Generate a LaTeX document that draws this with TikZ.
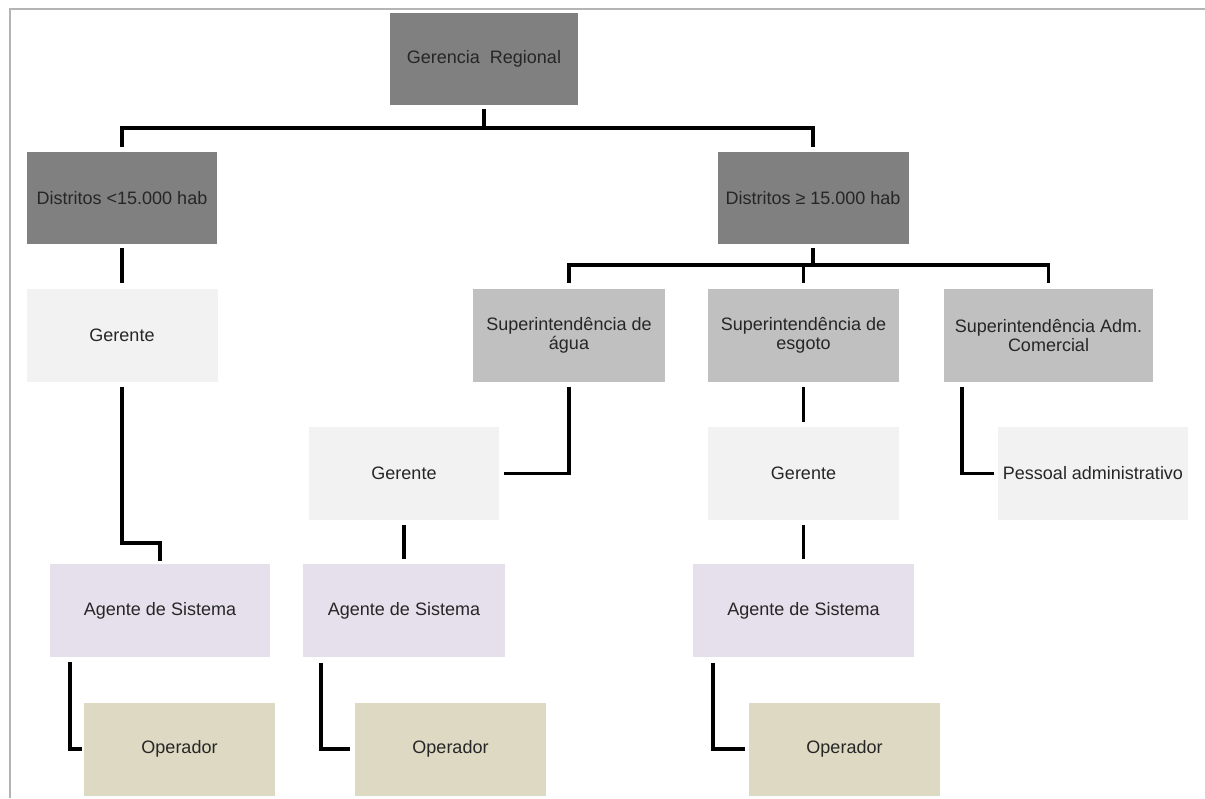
\documentclass[tikz,border=0pt]{standalone}
\usepackage{fontspec}
\setmainfont{Liberation Sans}
\definecolor{chefe}{HTML}{808080}
\definecolor{superint}{HTML}{C0C0C0}
\definecolor{gerente}{HTML}{F2F2F2}
\definecolor{agente}{HTML}{E5E0EC}
\definecolor{operador}{HTML}{DDD9C3}
\definecolor{moldura}{HTML}{B4B4B4}
\tikzset{
  cargo/.style={rectangle, inner sep=0pt, minimum width=191pt, minimum height=93pt,
    align=center, text=black!85, font=\fontsize{18}{19.5}\selectfont},
  ligacao/.style={line width=3.5pt, black, line cap=butt, line join=miter}
}
\begin{document}
\begin{tikzpicture}[x=1pt, y=-1pt]
\useasboundingbox (0,0) rectangle (1205,798);
\draw[moldura, line width=1.5pt] (10,798) -- (10,9) -- (1205,9);

\node[cargo, fill=chefe, minimum width=188pt, minimum height=92pt] (regional) at (484,59) {Gerencia\ \ Regional};
\node[cargo, fill=chefe, minimum width=190pt, minimum height=92pt] (menores) at (122,198) {Distritos <15.000 hab};
\node[cargo, fill=chefe, minimum width=191pt, minimum height=92pt] (maiores) at (813,198) {Distritos ≥ 15.000 hab};

\node[cargo, fill=gerente] (gerenteA) at (122,335.5) {Gerente};
\node[cargo, fill=superint, minimum width=192pt] (supAgua) at (569,335.5) {Superintendência de\\água};
\node[cargo, fill=superint] (supEsgoto) at (803.5,335.5) {Superintendência de\\esgoto};
\node[cargo, fill=superint, minimum width=209pt] (supAdm) at (1048.5,335.5) {Superintendência Adm.\\Comercial};

\node[cargo, fill=gerente, minimum width=190pt] (gerenteB) at (404,473.5) {Gerente};
\node[cargo, fill=gerente] (gerenteC) at (803.5,473.5) {Gerente};
\node[cargo, fill=gerente, minimum width=190pt] (pessoal) at (1093,473.5) {Pessoal administrativo};

\node[cargo, fill=agente, minimum width=220pt] (agenteA) at (160,610.5) {Agente de Sistema};
\node[cargo, fill=agente, minimum width=202pt] (agenteB) at (404,610.5) {Agente de Sistema};
\node[cargo, fill=agente, minimum width=221pt] (agenteC) at (803.5,610.5) {Agente de Sistema};

\node[cargo, fill=operador] (operadorA) at (179.5,749) {Operador};
\node[cargo, fill=operador] (operadorB) at (450.5,749) {Operador};
\node[cargo, fill=operador] (operadorC) at (844.5,749) {Operador};

\draw[ligacao] ([yshift=-4pt]regional.south) -- ++(0,19) coordinate (barra1);
\draw[ligacao] ([yshift=5pt]menores.north) |- (barra1) -| ([yshift=5pt]maiores.north);
\draw[ligacao] ([yshift=-4pt]maiores.south) -- ++(0,17) coordinate (barra2);
\draw[ligacao] ([yshift=6pt]supAgua.north) |- (barra2) -| ([yshift=6pt]supAdm.north);
\draw[ligacao] (barra2 -| supEsgoto.north) -- ([yshift=6pt]supEsgoto.north);

\draw[ligacao] ([yshift=-4pt]menores.south) -- ([yshift=6pt]gerenteA.north);
\draw[ligacao] ([yshift=-5pt]gerenteA.south) -- ++(0,156) -| ([yshift=3pt]agenteA.north);
\draw[ligacao] ([xshift=20pt,yshift=-5pt]agenteA.south west) |- ([xshift=-2pt]operadorA.west);

\draw[ligacao] ([yshift=-5pt]supAgua.south) |- ([xshift=5pt]gerenteB.east);
\draw[ligacao] ([yshift=-5pt]gerenteB.south) -- ([yshift=5pt]agenteB.north);
\draw[ligacao] ([xshift=18pt,yshift=-6pt]agenteB.south west) |- ([xshift=-5pt]operadorB.west);

\draw[ligacao] ([yshift=-5pt]supEsgoto.south) -- ([yshift=5pt]gerenteC.north);
\draw[ligacao] ([yshift=-5pt]gerenteC.south) -- ([yshift=5pt]agenteC.north);
\draw[ligacao] ([xshift=20pt,yshift=-6pt]agenteC.south west) |- ([xshift=-4pt]operadorC.west);

\draw[ligacao] ([xshift=18pt,yshift=-5pt]supAdm.south west) |- ([xshift=-4pt]pessoal.west);
\end{tikzpicture}
\end{document}
